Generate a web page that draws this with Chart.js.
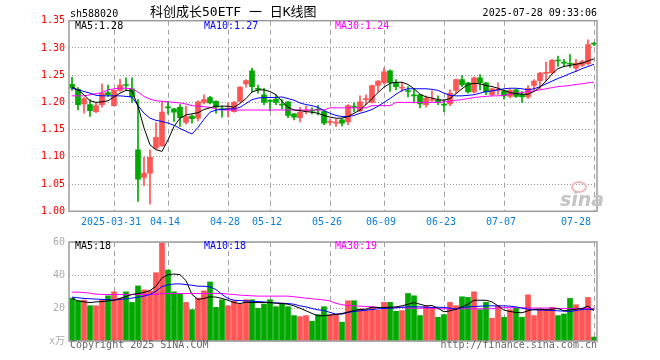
<!DOCTYPE html>
<html>
<head>
<meta charset="utf-8">
<script src="https://cdn.jsdelivr.net/npm/chart.js@4.4.1/dist/chart.umd.min.js"></script>
<style>
html,body{margin:0;padding:0;background:#fff;}
#wrap{position:relative;width:660px;height:360px;background:#fff;overflow:hidden;}
canvas{position:absolute;left:0;}
.t{position:absolute;font:10px/12px 'DejaVu Sans Mono',monospace;white-space:nowrap;}
</style>
</head>
<body>
<div id="wrap">
  <canvas id="k" width="660" height="232" style="top:0"></canvas>
  <canvas id="v" width="660" height="128" style="top:232px"></canvas>
  <div class="t" style="left:70px;top:8px;color:#000">sh588020</div>
  <div class="t" style="left:150px;top:5px;font:13px/13px 'DejaVu Sans Mono','Noto Sans CJK SC',sans-serif;color:#000">科创成长50ETF 一 日K线图</div>
  <div class="t" style="right:63px;top:7px;color:#000">2025-07-28 09:33:06</div>
  <div class="t" style="left:75px;top:20px;color:#000">MA5:1.28</div>
  <div class="t" style="left:204px;top:20px;color:#0000ff">MA10:1.27</div>
  <div class="t" style="left:335px;top:20px;color:#ff00ff">MA30:1.24</div>
  <div class="t" style="left:75px;top:240px;color:#000">MA5:18</div>
  <div class="t" style="left:204px;top:240px;color:#0000ff">MA10:18</div>
  <div class="t" style="left:335px;top:240px;color:#ff00ff">MA30:19</div>
  <div class="t" style="left:70px;top:339px;color:#666">Copyright 2025 SINA.COM</div>
  <div class="t" style="right:63px;top:339px;color:#666">http://finance.sina.com.cn</div>
  <div style="position:absolute;left:571px;top:181px;width:12px;height:8px;border:2px solid #f4b8b8;border-radius:50%;"></div>
  <div class="t" style="left:560px;top:189px;font:italic bold 19px/20px 'DejaVu Sans',sans-serif;color:#c4c4c4">sina</div>
</div>
<script>
const dates = ['03-20','03-21','03-24','03-25','03-26','03-27','03-28','03-31',
'04-01','04-02','04-03','04-07','04-08','04-09','04-10','04-11','04-14','04-15','04-16','04-17','04-18','04-21','04-22','04-23','04-24','04-25','04-28','04-29','04-30',
'05-06','05-07','05-08','05-09','05-12','05-13','05-14','05-15','05-16','05-19','05-20','05-21','05-22','05-23','05-26','05-27','05-28','05-29','05-30',
'06-03','06-04','06-05','06-06','06-09','06-10','06-11','06-12','06-13','06-16','06-17','06-18','06-19','06-20','06-23','06-24','06-25','06-26','06-27','06-30',
'07-01','07-02','07-03','07-04','07-07','07-08','07-09','07-10','07-11','07-14','07-15','07-16','07-17','07-18','07-21','07-22','07-23','07-24','07-25','07-28'];

const open = [1.233,1.224,1.197,1.196,1.183,1.196,1.218,1.194,1.222,1.232,
1.225,1.113,1.062,1.070,1.116,1.120,1.191,1.188,1.191,1.163,
1.175,1.171,1.200,1.209,1.202,1.188,1.187,1.183,1.202,1.234,
1.258,1.226,1.214,1.204,1.206,1.196,1.201,1.179,1.172,1.184,
1.185,1.187,1.183,1.163,1.162,1.168,1.164,1.192,1.185,1.205,
1.200,1.231,1.236,1.258,1.236,1.226,1.221,1.213,1.214,1.196,
1.204,1.204,1.196,1.197,1.222,1.242,1.236,1.219,1.245,1.236,
1.214,1.222,1.221,1.211,1.223,1.215,1.210,1.231,1.240,1.253,
1.254,1.277,1.273,1.271,1.263,1.268,1.271,1.308];

const high = [1.246,1.227,1.209,1.205,1.199,1.234,1.232,1.223,1.243,1.245,
1.245,1.205,1.099,1.113,1.163,1.202,1.202,1.189,1.196,1.193,
1.177,1.203,1.214,1.211,1.203,1.193,1.199,1.202,1.229,1.242,
1.263,1.232,1.226,1.205,1.214,1.205,1.202,1.180,1.191,1.193,
1.190,1.194,1.185,1.170,1.169,1.170,1.196,1.199,1.212,1.214,
1.232,1.240,1.263,1.260,1.242,1.237,1.229,1.225,1.215,1.212,
1.221,1.212,1.205,1.223,1.243,1.249,1.237,1.247,1.251,1.237,
1.226,1.236,1.222,1.225,1.224,1.220,1.231,1.242,1.255,1.274,
1.279,1.285,1.279,1.288,1.279,1.277,1.315,1.310];

const low = [1.222,1.186,1.180,1.174,1.181,1.191,1.211,1.193,1.220,1.223,
1.200,1.018,1.047,1.013,1.114,1.119,1.179,1.165,1.156,1.160,
1.162,1.166,1.197,1.197,1.180,1.173,1.173,1.182,1.201,1.228,
1.219,1.217,1.196,1.185,1.196,1.188,1.172,1.168,1.164,1.179,
1.179,1.177,1.159,1.158,1.156,1.157,1.159,1.183,1.183,1.196,
1.199,1.220,1.234,1.220,1.223,1.220,1.210,1.199,1.190,1.191,
1.202,1.196,1.183,1.194,1.217,1.229,1.217,1.217,1.223,1.214,
1.212,1.214,1.206,1.208,1.209,1.200,1.207,1.223,1.225,1.239,
1.253,1.266,1.266,1.264,1.257,1.266,1.269,1.304];

const close = [1.226,1.196,1.207,1.185,1.194,1.217,1.214,1.222,1.232,1.231,
1.210,1.059,1.070,1.099,1.136,1.182,1.190,1.182,1.172,1.174,
1.170,1.201,1.205,1.199,1.191,1.187,1.189,1.200,1.228,1.240,
1.229,1.224,1.200,1.202,1.200,1.195,1.176,1.173,1.182,1.185,
1.184,1.186,1.162,1.165,1.164,1.162,1.194,1.191,1.201,1.207,
1.231,1.239,1.256,1.236,1.229,1.227,1.220,1.212,1.197,1.208,
1.205,1.200,1.195,1.217,1.242,1.232,1.219,1.245,1.236,1.219,
1.225,1.224,1.212,1.222,1.211,1.210,1.226,1.239,1.254,1.255,
1.277,1.276,1.272,1.270,1.272,1.275,1.306,1.307];

const ma5 = [1.228,1.223,1.214,1.203,1.200,1.201,1.203,1.210,1.217,1.222,
1.221,1.193,1.153,1.122,1.113,1.110,1.131,1.156,1.171,1.177,
1.179,1.181,1.187,1.190,1.193,1.193,1.193,1.191,1.198,1.207,
1.219,1.223,1.223,1.220,1.214,1.202,1.191,1.186,1.185,1.183,
1.182,1.180,1.176,1.173,1.171,1.171,1.174,1.180,1.186,1.196,
1.207,1.218,1.228,1.235,1.237,1.237,1.233,1.225,1.215,1.210,
1.208,1.205,1.204,1.207,1.216,1.225,1.233,1.235,1.234,1.231,
1.229,1.226,1.222,1.218,1.216,1.215,1.215,1.220,1.228,1.239,
1.252,1.262,1.266,1.268,1.270,1.272,1.276,1.280];

const ma10 = [1.226,1.223,1.220,1.217,1.213,1.212,1.212,1.212,1.212,1.211,
1.210,1.194,1.180,1.171,1.167,1.165,1.162,1.158,1.152,1.147,
1.142,1.154,1.169,1.182,1.186,1.187,1.188,1.188,1.191,1.198,
1.205,1.208,1.209,1.209,1.209,1.210,1.207,1.204,1.199,1.196,
1.194,1.191,1.185,1.180,1.176,1.174,1.174,1.176,1.180,1.183,
1.187,1.193,1.200,1.207,1.215,1.222,1.225,1.225,1.225,1.225,
1.224,1.222,1.217,1.213,1.212,1.212,1.213,1.214,1.217,1.220,
1.221,1.223,1.225,1.226,1.226,1.225,1.223,1.225,1.229,1.234,
1.239,1.244,1.248,1.253,1.257,1.262,1.266,1.270];

const ma30 = [1.212,1.212,1.212,1.214,1.216,1.218,1.223,1.225,1.226,1.226,
1.225,1.219,1.211,1.206,1.203,1.202,1.201,1.200,1.199,1.197,
1.194,1.193,1.192,1.191,1.188,1.186,1.186,1.186,1.186,1.186,
1.186,1.186,1.186,1.186,1.186,1.186,1.186,1.186,1.186,1.186,
1.186,1.186,1.186,1.190,1.190,1.190,1.190,1.190,1.190,1.190,
1.194,1.194,1.194,1.194,1.200,1.200,1.200,1.200,1.200,1.200,
1.200,1.200,1.201,1.202,1.204,1.205,1.207,1.209,1.210,1.211,
1.212,1.212,1.213,1.215,1.217,1.218,1.220,1.221,1.223,1.225,
1.227,1.229,1.230,1.231,1.233,1.234,1.236,1.237];

const volume = [26,24.4,24.8,21.4,21.4,24.8,27.4,29.8,26,29.8,
23.4,33.4,31,30.4,41.4,59.4,43,29.8,28.8,23.4,
19,26,30.4,35.8,20.4,25,21.4,24.4,22.4,25,
25,19.8,22.4,25,20.8,22.4,20.8,15.4,14.8,15.4,
12,16,20.8,16,16,11.4,24.4,24.4,19.4,18.8,
20.4,18.8,23.4,23.4,18,18.4,28.8,27.4,15.4,21,
20,14.4,16,23.4,21.4,26.8,26.4,29.8,19,23.4,
13.8,21.4,14.4,19,19.8,14.4,28,15.4,19,19,
20.4,15.4,16.4,25.8,22,19,26.4,2.4];

const volMa5 = [25.8,24.3,23.7,23.3,23.7,23.9,24.3,24.7,25.8,27.0,
28.2,28.8,29.4,30.6,33.2,38.2,40.2,40.6,40.2,36.6,
28.2,25.2,25.8,26.8,26.6,25.8,24.7,23.3,22.7,23.5,
23.3,23.3,23.3,23.3,22.9,22.7,22.3,21.3,19.9,18.3,
16.7,15.3,15.3,15.7,16.1,16.7,17.5,18.5,19.1,19.3,
20.5,20.3,20.3,20.5,20.7,21.3,22.3,23.3,22.3,21.3,
21.5,19.9,17.7,18.3,19.3,20.7,22.3,24.7,24.7,24.7,
23.7,21.3,18.7,17.9,17.3,17.1,18.3,19.1,19.3,18.9,
19.3,19.7,18.3,18.9,19.3,19.7,21.1,18.5];

const volMa10 = [26.6,26.2,25.8,25.6,25.4,25.2,25.0,24.8,25.2,25.6,
26.0,26.6,27.2,28.2,30.2,33.0,34.0,34.6,34.6,34.2,
33.8,33.2,33.2,32.8,31.2,28.2,25.8,24.7,24.5,24.3,
24.1,23.9,23.7,23.3,23.1,22.9,22.7,22.3,21.3,20.7,
19.7,18.9,18.5,17.3,16.3,16.3,17.3,17.9,18.3,18.7,
19.1,19.5,19.7,19.9,20.1,20.5,20.7,20.7,20.7,20.5,
20.3,20.5,20.3,19.9,19.3,20.3,20.7,20.9,21.1,21.3,
21.3,21.3,21.3,21.1,20.7,19.9,19.3,18.9,18.7,18.7,
18.5,18.3,18.1,17.9,18.5,19.1,19.3,18.7];

const volMa30 = [29.6,29.6,29.4,29.0,28.4,28.2,28.2,28.2,28.2,28.2,
28.2,28.2,28.2,28.2,28.2,28.8,28.8,28.8,28.8,28.8,
28.8,28.8,28.8,28.8,28.8,28.8,28.4,28.2,27.8,27.6,
27.4,27.2,27.2,27.2,27.2,27.2,27.2,26.8,26.4,26.0,
25.6,25.2,24.9,24.3,22.8,22.0,21.5,21.3,21.1,20.9,
20.7,20.3,20.3,20.3,20.3,20.3,19.9,19.9,19.9,19.9,
19.9,19.5,19.5,19.5,19.5,19.5,19.5,19.5,19.5,19.5,
19.5,20.2,20.2,20.2,20.2,20.2,20.0,20.0,20.0,20.0,
20.0,19.7,19.7,19.7,19.7,19.7,19.7,19.7];

const tickDates  = ['03-31','04-14','04-28','05-12','05-26','06-09','06-23','07-07','07-28'];
const tickLabels = ['2025-03-31','04-14','04-28','05-12','05-26','06-09','06-23','07-07','07-28'];

const MONO = "'DejaVu Sans Mono', 'Noto Sans CJK SC', monospace";
const RED = '#ff5555', GREEN = '#00a800';
const colors = close.map((c, i) => c >= open[i] ? RED : GREEN);
const wicks = dates.map((d, i) => [low[i], high[i]]);
const bodies = dates.map((d, i) => [open[i], close[i]]);
const lastIdx = dates.length - 1;

const frame = {
  id: 'frame',
  afterDraw(chart) {
    const {ctx, chartArea: a} = chart;
    ctx.save();
    ctx.strokeStyle = '#9c9c9c';
    ctx.lineWidth = 1.5;
    ctx.strokeRect(a.left, a.top, a.right - a.left, a.bottom - a.top);
    ctx.restore();
  }
};

function xScale(show) {
  return {
    type: 'category', offset: true,
    grid: { offset: false, color: '#a0a0a0', lineWidth: 1, drawTicks: false },
    border: { display: false, dash: [5, 4] },
    ticks: {
      display: show, autoSkip: false, maxRotation: 0, minRotation: 0, padding: 5, labelOffset: -3,
      color: '#0a7ed8', font: { family: MONO, size: 10 },
      callback: (v) => {
        const k = tickDates.indexOf(dates[v]);
        if (k < 0) return '';
        let s = tickLabels[k];
        if (v === lastIdx) s += '     ';
        return s;
      }
    },
    afterBuildTicks: ax => { ax.ticks = ax.ticks.filter(t => tickDates.includes(dates[t.value])); },
    afterFit: s => { s.height = show ? 20.7 : 0; }
  };
}

const line = (data, color) => ({
  type: 'line', data, borderColor: color, borderWidth: 1, pointRadius: 0,
  tension: 0, fill: false, order: 0
});

new Chart(document.getElementById('k'), {
  type: 'bar',
  data: {
    labels: dates,
    datasets: [
      line(ma5, '#000000'),
      line(ma10, '#0000ff'),
      line(ma30, '#ff00ff'),
      { type: 'bar', data: wicks, backgroundColor: colors, barThickness: 1, grouped: false, order: 2 },
      { type: 'bar', data: bodies, backgroundColor: colors, barThickness: 5, grouped: false, minBarLength: 1, order: 1 }
    ]
  },
  options: {
    responsive: false, animation: false, devicePixelRatio: 1,
    layout: { padding: { left: 0, right: 63, top: 20.7, bottom: 0 } },
    plugins: { legend: { display: false }, tooltip: { enabled: false } },
    scales: {
      x: xScale(true),
      y: {
        min: 1.0, max: 1.35,
        afterFit: s => { s.width = 69; },
        grid: { color: '#999999', drawTicks: false },
        border: { display: false, dash: [1, 2] },
        ticks: { stepSize: 0.05, padding: 4, color: '#ff0000', font: { family: MONO, size: 10 }, callback: v => v.toFixed(2) }
      }
    }
  },
  plugins: [frame]
});

new Chart(document.getElementById('v'), {
  type: 'bar',
  data: {
    labels: dates,
    datasets: [
      line(volMa5, '#000000'),
      line(volMa10, '#0000ff'),
      line(volMa30, '#ff00ff'),
      { type: 'bar', data: volume, backgroundColor: colors, barThickness: 5, grouped: false, order: 1 }
    ]
  },
  options: {
    responsive: false, animation: false, devicePixelRatio: 1,
    layout: { padding: { left: 0, right: 63, top: 8, bottom: 19 } },
    plugins: { legend: { display: false }, tooltip: { enabled: false } },
    scales: {
      x: xScale(false),
      y: {
        min: 0, max: 60,
        afterFit: s => { s.width = 69; },
        grid: { color: '#999999', drawTicks: false },
        border: { display: false, dash: [1, 2] },
        ticks: { stepSize: 20, padding: 4, color: '#aaaaaa', font: { family: MONO, size: 10 }, callback: v => v === 0 ? 'x万' : String(v) }
      }
    }
  },
  plugins: [frame]
});
</script>
</body>
</html>
